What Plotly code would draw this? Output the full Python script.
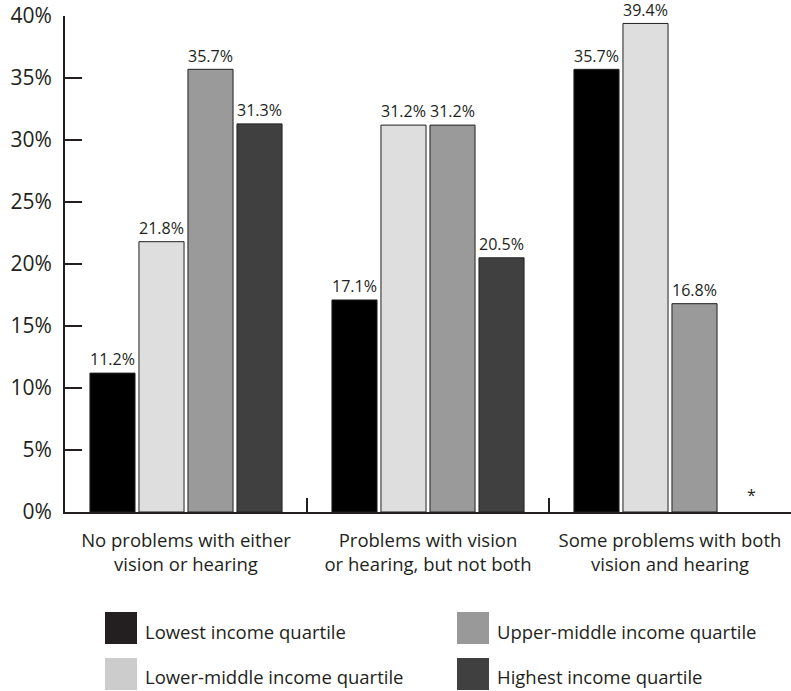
import plotly.graph_objects as go

# Categories (x axis) and series values (percent)
categories = [
    "No problems with either<br>vision or hearing",
    "Problems with vision<br>or hearing, but not both",
    "Some problems with both<br>vision and hearing",
]
series_names = [
    "Lowest income quartile",
    "Lower-middle income quartile",
    "Upper-middle income quartile",
    "Highest income quartile",
]
lowest = [11.2, 17.1, 35.7]
lower_middle = [21.8, 31.2, 39.4]
upper_middle = [35.7, 31.2, 16.8]
highest = [31.3, 20.5, None]  # suppressed estimate, shown as "*"

y_ticks = [0, 5, 10, 15, 20, 25, 30, 35, 40]
y_tick_labels = ["0%", "5%", "10%", "15%", "20%", "25%", "30%", "35%", "40%"]

bar_colors = ["#000000", "#dedede", "#9a9a9a", "#404040"]
legend_colors = ["#231f20", "#cccccc", "#999999", "#404040"]
text_color = "#231f20"
FONT = "Open Sans"

BARGAP = 0.19
BARGROUPGAP = 0.08

W, H = 791, 691
M_L, M_R, M_T, M_B = 65, 0, 16, 179
plot_h = H - M_T - M_B
plot_w = W - M_L - M_R

x_pos = list(range(len(categories)))
all_series = [lowest, lower_middle, upper_middle, highest]

fig = go.Figure()
for name, vals, col in zip(series_names, all_series, bar_colors):
    fig.add_trace(go.Bar(
        x=x_pos,
        y=vals,
        name=name,
        marker=dict(color=col, line=dict(color=text_color, width=1)),
        text=[None if v is None else f"{v:.1f}%" for v in vals],
        textposition="outside",
        textfont=dict(family=FONT, size=17, color=text_color),
        cliponaxis=False,
        showlegend=False,
    ))

# Asterisk marking the suppressed bar in the last group
slot = (1 - BARGAP) / 4
fig.add_annotation(
    x=x_pos[2] + 1.5 * slot, y=0, xref="x", yref="y",
    text="*", showarrow=False, yanchor="bottom", yshift=4, xshift=8,
    font=dict(family=FONT, size=16, color=text_color),
)

# Custom two-column legend with large swatches
def py(p):
    return (H - M_B - p) / plot_h

def px(p):
    return (p - M_L) / plot_w

legend_layout = [
    (0, 105, 612),  # Lowest
    (1, 105, 658),  # Lower-middle
    (2, 457, 612),  # Upper-middle
    (3, 457, 658),  # Highest
]
for idx, x0, y0 in legend_layout:
    fig.add_shape(
        type="rect", xref="paper", yref="paper",
        x0=px(x0), x1=px(x0 + 32), y0=py(y0), y1=py(y0 + 32),
        fillcolor=legend_colors[idx], line=dict(width=0), layer="above",
    )
    fig.add_annotation(
        xref="paper", yref="paper", x=px(x0 + 38), y=py(y0 + 19),
        text=series_names[idx], showarrow=False,
        xanchor="left", yanchor="middle",
        font=dict(family=FONT, size=18.5, color=text_color),
    )

fig.update_layout(
    width=W, height=H,
    margin=dict(l=M_L, r=M_R, t=M_T, b=M_B, pad=0),
    paper_bgcolor="white", plot_bgcolor="white",
    barmode="group", bargap=BARGAP, bargroupgap=BARGROUPGAP,
    showlegend=False,
    font=dict(family=FONT, color=text_color),
)
fig.update_xaxes(
    range=[-0.5, 2.5],
    tickmode="array", tickvals=x_pos, ticktext=categories,
    ticks="", showgrid=False, zeroline=False,
    showline=True, linecolor=text_color, linewidth=2,
    tickfont=dict(family=FONT, size=18.5, color=text_color),
    ticklabelstandoff=11,
    minor=dict(tickmode="array", tickvals=[0.5, 1.5], ticks="inside",
               ticklen=14, tickwidth=2, tickcolor=text_color),
    fixedrange=True,
)
fig.update_yaxes(
    range=[0, 40],
    tickmode="array", tickvals=y_ticks, ticktext=y_tick_labels,
    ticks="inside", ticklen=17, tickwidth=2, tickcolor=text_color,
    showgrid=False, zeroline=False,
    showline=True, linecolor=text_color, linewidth=2,
    tickfont=dict(family=FONT, size=21, color=text_color),
    ticklabelstandoff=7,
    fixedrange=True,
)

fig.write_html("out.html")
